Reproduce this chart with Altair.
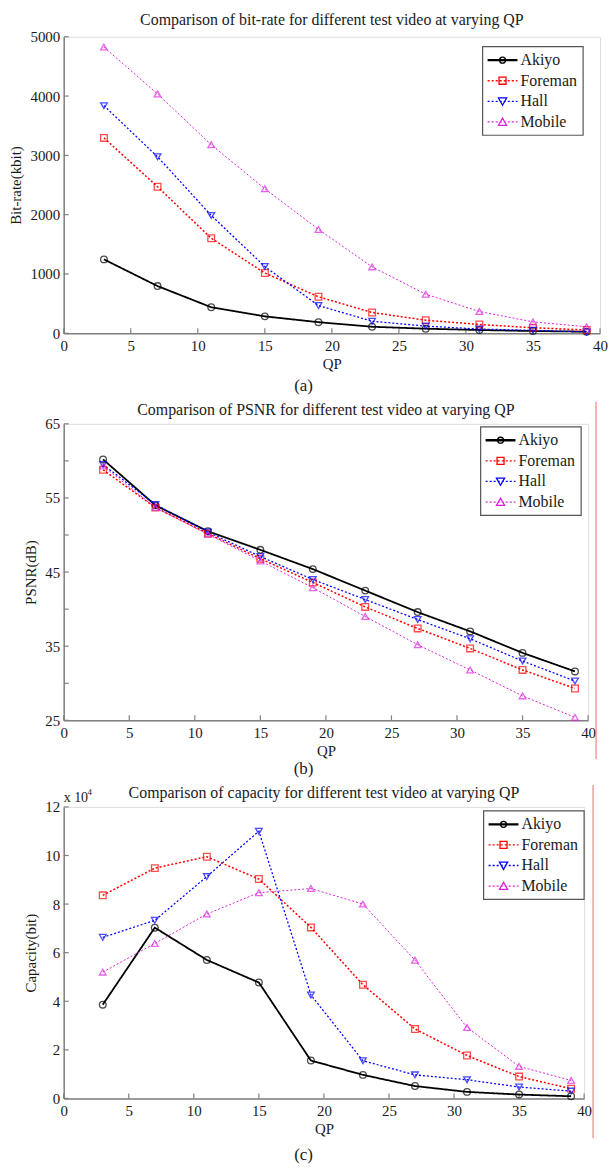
import altair as alt
import pandas as pd

QP = [3, 7, 11, 15, 19, 23, 27, 31, 35, 39]
SERIES = ["Akiyo", "Foreman", "Hall", "Mobile"]
COLORS = ["#000000", "#ff0000", "#0000ff", "#dd22dd"]

# (a) bit-rate (kbit)
BR_AKIYO = [1246, 796, 439, 285, 187, 110, 77, 55, 38, 27]
BR_FOREMAN = [3294, 2470, 1603, 1016, 615, 351, 220, 148, 93, 55]
BR_HALL = [3838, 2976, 1987, 1125, 467, 203, 121, 71, 49, 22]
BR_MOBILE = [4826, 4035, 3179, 2437, 1751, 1120, 659, 368, 192, 110]

# (b) PSNR (dB)
PS_AKIYO = [60.2, 54.0, 50.5, 48.0, 45.4, 42.5, 39.6, 37.0, 34.1, 31.6]
PS_FOREMAN = [58.8, 53.7, 50.2, 46.8, 43.6, 40.3, 37.4, 34.7, 31.8, 29.3]
PS_HALL = [59.5, 54.1, 50.4, 47.1, 44.0, 41.3, 38.6, 36.0, 33.0, 30.3]
PS_MOBILE = [59.3, 53.7, 50.1, 46.5, 42.9, 39.0, 35.2, 31.8, 28.3, 25.4]

# (c) capacity (x 10^4 bit)
CA_AKIYO = [3.86, 7.03, 5.70, 4.77, 1.56, 0.97, 0.51, 0.27, 0.16, 0.09]
CA_FOREMAN = [8.36, 9.48, 9.95, 9.03, 7.04, 4.68, 2.86, 1.77, 0.90, 0.40]
CA_HALL = [6.63, 7.33, 9.13, 11.0, 4.26, 1.55, 0.97, 0.77, 0.47, 0.30]
CA_MOBILE = [5.20, 6.38, 7.59, 8.47, 8.64, 8.00, 5.69, 2.92, 1.32, 0.74]

X_TICKS = [0, 5, 10, 15, 20, 25, 30, 35, 40]

FONT = "Liberation Serif"
AXIS_GRAY = "#808080"
TEXT = "#1a1a1a"

LEG_W = 101
LEG_H = 89
LEG_FIRST = 13.5
LEG_PITCH = 20.7


def dotted(x0, x1, on=0.27, off=0.27):
    parts = []
    x = x0
    while x < x1 - 1e-6:
        e = min(x + on, x1)
        parts.append(f"M{x:.3f},0H{e:.3f}")
        x += on + off
    return "".join(parts)


CIRCLE = "M-0.4,0A0.4,0.4 0 1,0 0.4,0A0.4,0.4 0 1,0 -0.4,0Z"
SQUARE = "M-0.47,-0.47H0.47V0.47H-0.47Z"
TRI_DOWN = "M-0.55,-0.45L0.55,-0.45L0,0.52Z"
TRI_UP = "M-0.55,0.45L0.55,0.45L0,-0.52Z"
LEGEND_PATHS = [
    "M-2,-0.07H2M-2,0.07H2" + CIRCLE,
    dotted(-2, 2) + SQUARE,
    dotted(-2, 2) + TRI_DOWN,
    dotted(-2, 2) + TRI_UP,
]


def text_layer(txt, x, y, size, align="center", baseline="middle"):
    return alt.Chart(pd.DataFrame({"t": [txt]})).mark_text(
        font=FONT, fontSize=size, color=TEXT, align=align, baseline=baseline).encode(
        text="t:N", x=alt.value(x), y=alt.value(y))


def legend_layers(leg_x, leg_y):
    frame = alt.Chart(pd.DataFrame({"t": [0]})).mark_rect(
        fill="white", stroke="#555555", strokeWidth=1.2).encode(
        x=alt.value(leg_x), x2=alt.value(leg_x + LEG_W),
        y=alt.value(leg_y), y2=alt.value(leg_y + LEG_H))
    out = [frame]
    for i, (s, c, p) in enumerate(zip(SERIES, COLORS, LEGEND_PATHS)):
        yy = leg_y + LEG_FIRST + i * LEG_PITCH
        sym = alt.Chart(pd.DataFrame({"Series": [s]})).mark_point(
            filled=False, size=225, strokeWidth=1.3, opacity=1).encode(
            x=alt.value(leg_x + 20), y=alt.value(yy),
            shape=alt.value(p), stroke=alt.value(c))
        out.append(sym)
        out.append(text_layer(s, leg_x + 38, yy, 16, align="left"))
    return out


def panel(vals, title, ytitle, ydom, yticks, caption, width, height,
          leg_x, leg_y, akiyo_w, title_y, cap_y, title_baseline="middle",
          red_rule=None, exponent=False):
    rows = []
    for s, arr in zip(SERIES, vals):
        for q, v in zip(QP, arr):
            rows.append({"QP": q, "Value": v, "Series": s})
    df = pd.DataFrame(rows)

    xs = alt.Scale(domain=[0, 40], nice=False, zero=False)
    ys = alt.Scale(domain=ydom, nice=False, zero=False)
    xaxis = alt.Axis(values=X_TICKS, title="QP", format="d", labelFont=FONT, labelFontSize=15,
                     titleFont=FONT, titleFontSize=15, titleFontWeight="normal",
                     labelColor=TEXT, titleColor=TEXT, domainColor=AXIS_GRAY,
                     domainWidth=1.5, ticks=False, labelPadding=5, titlePadding=3,
                     grid=False, labelFlush=False, labelOverlap=False)
    yaxis = alt.Axis(values=yticks, title=ytitle, format="d", labelFont=FONT, labelFontSize=15,
                     titleFont=FONT, titleFontSize=15, titleFontWeight="normal",
                     labelColor=TEXT, titleColor=TEXT, domainColor=AXIS_GRAY,
                     domainWidth=1.5, ticks=False, labelPadding=4, titlePadding=6,
                     grid=False, labelOverlap=False)
    cscale = alt.Scale(domain=SERIES, range=COLORS)

    base = alt.Chart(df)
    lines = base.mark_line().encode(
        x=alt.X("QP:Q", scale=xs, axis=xaxis),
        y=alt.Y("Value:Q", scale=ys, axis=yaxis),
        color=alt.Color("Series:N", scale=cscale, legend=None),
        strokeDash=alt.StrokeDash("Series:N", scale=alt.Scale(
            domain=SERIES, range=[[1, 0], [2, 2], [2, 2], [2, 2]]), legend=None),
        strokeWidth=alt.StrokeWidth("Series:N", scale=alt.Scale(
            domain=SERIES, range=[akiyo_w, 1.0, 1.0, 1.0]), legend=None),
        order=alt.Order("QP:Q"),
    )
    points = base.mark_point(filled=False, size=45, strokeWidth=1.3).encode(
        x=alt.X("QP:Q", scale=xs),
        y=alt.Y("Value:Q", scale=ys),
        color=alt.Color("Series:N", scale=cscale, legend=None),
        shape=alt.Shape("Series:N", scale=alt.Scale(
            domain=SERIES, range=["circle", "square", "triangle-down", "triangle-up"]),
            legend=None),
    )

    ytk = alt.Chart(pd.DataFrame({"Value": yticks})).mark_rule(
        color=AXIS_GRAY, strokeWidth=1.2).encode(
        y=alt.Y("Value:Q", scale=ys), x=alt.value(0), x2=alt.value(5))
    xtk = alt.Chart(pd.DataFrame({"QP": X_TICKS})).mark_rule(
        color=AXIS_GRAY, strokeWidth=1.2).encode(
        x=alt.X("QP:Q", scale=xs), y=alt.value(height), y2=alt.value(height - 5))

    layers = [xtk, ytk, lines, points,
              text_layer(title, width / 2, title_y, 16, baseline=title_baseline),
              text_layer(caption, 241, cap_y, 17)] + legend_layers(leg_x, leg_y)
    if red_rule is not None:
        rr = alt.Chart(pd.DataFrame({"t": [0]})).mark_rule(
            color="#ee6666", strokeWidth=1).encode(
            x=alt.value(red_rule[0]), y=alt.value(red_rule[1]), y2=alt.value(red_rule[2]))
        layers.append(rr)
    if exponent:
        layers += [text_layer("x 10", 0, -9, 14, align="left"),
                   text_layer("4", 24, -15, 9, align="left")]

    return alt.layer(*layers).properties(width=width, height=height)


pa = panel([BR_AKIYO, BR_FOREMAN, BR_HALL, BR_MOBILE],
           "Comparison of bit-rate for different test video at varying QP",
           "Bit-rate(kbit)", [0, 5000], [0, 1000, 2000, 3000, 4000, 5000], "(a)",
           539, 298, 421, 10, 1.8, -25, 351, title_baseline="top")
pb = panel([PS_AKIYO, PS_FOREMAN, PS_HALL, PS_MOBILE],
           "Comparison of PSNR for different test video at varying QP",
           "PSNR(dB)", [25, 65], [25, 30, 35, 40, 45, 50, 55, 60, 65], "(b)",
           527, 298, 419, 3, 1.6, -14, 347, red_rule=(535, -22, 337))
pc = panel([CA_AKIYO, CA_FOREMAN, CA_HALL, CA_MOBILE],
           "Comparison of capacity for different test video at varying QP",
           "Capacity(bit)", [0, 12], [0, 2, 4, 6, 8, 10, 12], "(c)",
           523, 293, 422, 4, 1.2, -14, 350, red_rule=(532, -22, 333), exponent=True)

chart = alt.vconcat(pa, pb, pc, spacing=6).configure_view(stroke=None).configure(
    padding=0, font=FONT)

chart.save("out.html", embed_options={"renderer": "svg", "actions": False})
